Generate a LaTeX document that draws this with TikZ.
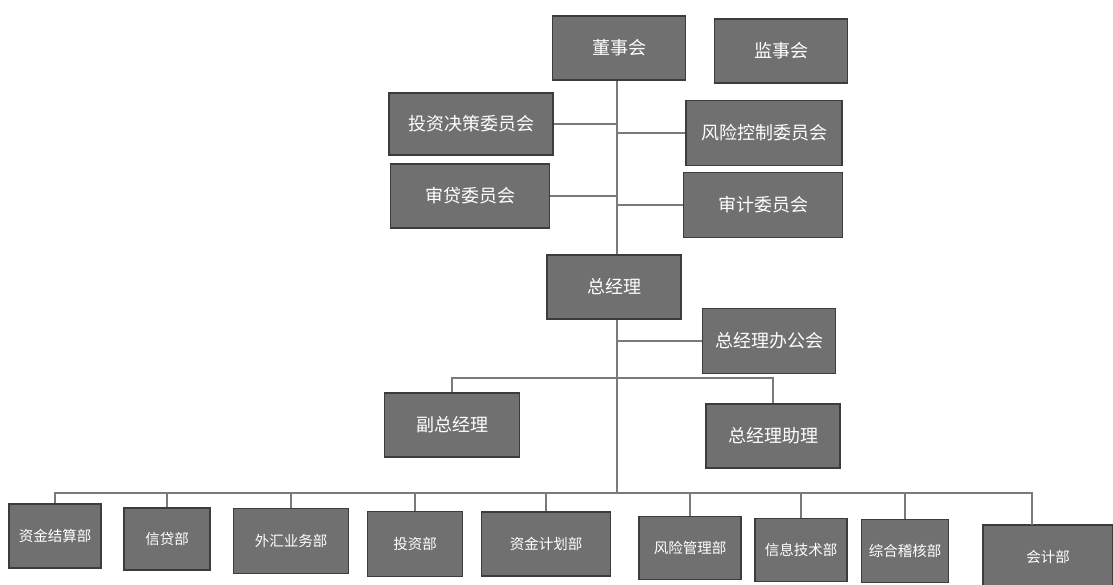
\documentclass[tikz,border=0pt]{standalone}
\usepackage{fontspec}
\newfontfamily\cjk{Noto Sans CJK SC}
\definecolor{boxfill}{HTML}{707070}
\definecolor{boxline}{HTML}{3C3C3C}
\definecolor{conn}{HTML}{7A7A7A}
\begin{document}
\begin{tikzpicture}[x=1pt,y=-1pt,
  box/.style={draw=boxline,line width=1.2pt,fill=boxfill,text=white,inner sep=0pt,font=\cjk\fontsize{18}{21}\selectfont},
  lowbox/.style={box,font=\cjk\fontsize{14.5}{18}\selectfont},
  link/.style={draw=conn,line width=1.5pt}]
\useasboundingbox (0,0) rectangle (1113,585);
\fill[white] (0,0) rectangle (1113,585);
% top
\node[box,minimum width=133pt,minimum height=64pt] (dsh) at (619,48) {董事会};
\node[box,minimum width=133pt,minimum height=64pt] (jsh) at (781,51) {监事会};
\node[box,minimum width=164pt,minimum height=62pt] (tz) at (471,124) {投资决策委员会};
\node[box,minimum width=156pt,minimum height=65pt] (fk) at (764,133) {风险控制委员会};
\node[box,minimum width=159pt,minimum height=64pt] (sd) at (470,196) {审贷委员会};
\node[box,minimum width=159pt,minimum height=65pt] (sj) at (763,205) {审计委员会};
\node[box,minimum width=134pt,minimum height=64pt] (zjl) at (614,287) {总经理};
\node[box,minimum width=133pt,minimum height=65pt] (bgh) at (769,341) {总经理办公会};
\node[box,minimum width=135pt,minimum height=64pt] (fzjl) at (452,425) {副总经理};
\node[box,minimum width=134pt,minimum height=64pt] (zl) at (773,436) {总经理助理};
% bottom row
\node[lowbox,minimum width=92pt,minimum height=64pt] (d1) at (55,536) {资金结算部};
\node[lowbox,minimum width=86pt,minimum height=62pt] (d2) at (167,539) {信贷部};
\node[lowbox,minimum width=115pt,minimum height=65pt] (d3) at (291,541) {外汇业务部};
\node[lowbox,minimum width=95pt,minimum height=65pt] (d4) at (415,544) {投资部};
\node[lowbox,minimum width=129pt,minimum height=64pt] (d5) at (546,544) {资金计划部};
\node[lowbox,minimum width=102pt,minimum height=63pt] (d6) at (690,548) {风险管理部};
\node[lowbox,minimum width=92pt,minimum height=63pt] (d7) at (801,550) {信息技术部};
\node[lowbox,minimum width=87pt,minimum height=63pt] (d8) at (905,551) {综合稽核部};
\node[lowbox,minimum width=130pt,minimum height=64pt] (d9) at (1048,557) {会计部};
% coordinates
\coordinate (db) at (617,378);
\coordinate (bus) at (617,493);
\coordinate (d9top) at (1032,525);
% connectors
\path[link] (dsh.south -| 617,0) -- (zjl.north -| 617,0);
\path[link] (tz.east) -- (tz.east -| 617,0);
\path[link] (fk.west) -- (fk.west -| 617,0);
\path[link] (sd.east) -- (sd.east -| 617,0);
\path[link] (sj.west) -- (sj.west -| 617,0);
\path[link] (zjl.south -| bus) -- (bus);
\path[link] (bgh.west) -- (bgh.west -| bus);
\path[link] (fzjl.north) |- (db) -| (zl.north);
\path[link] (d1.north) |- (bus) -| (d9top);
\foreach \d in {d2,d3,d4,d5,d6,d7,d8}{\path[link] (\d.north) -- (\d.north |- bus);}
\end{tikzpicture}
\end{document}
